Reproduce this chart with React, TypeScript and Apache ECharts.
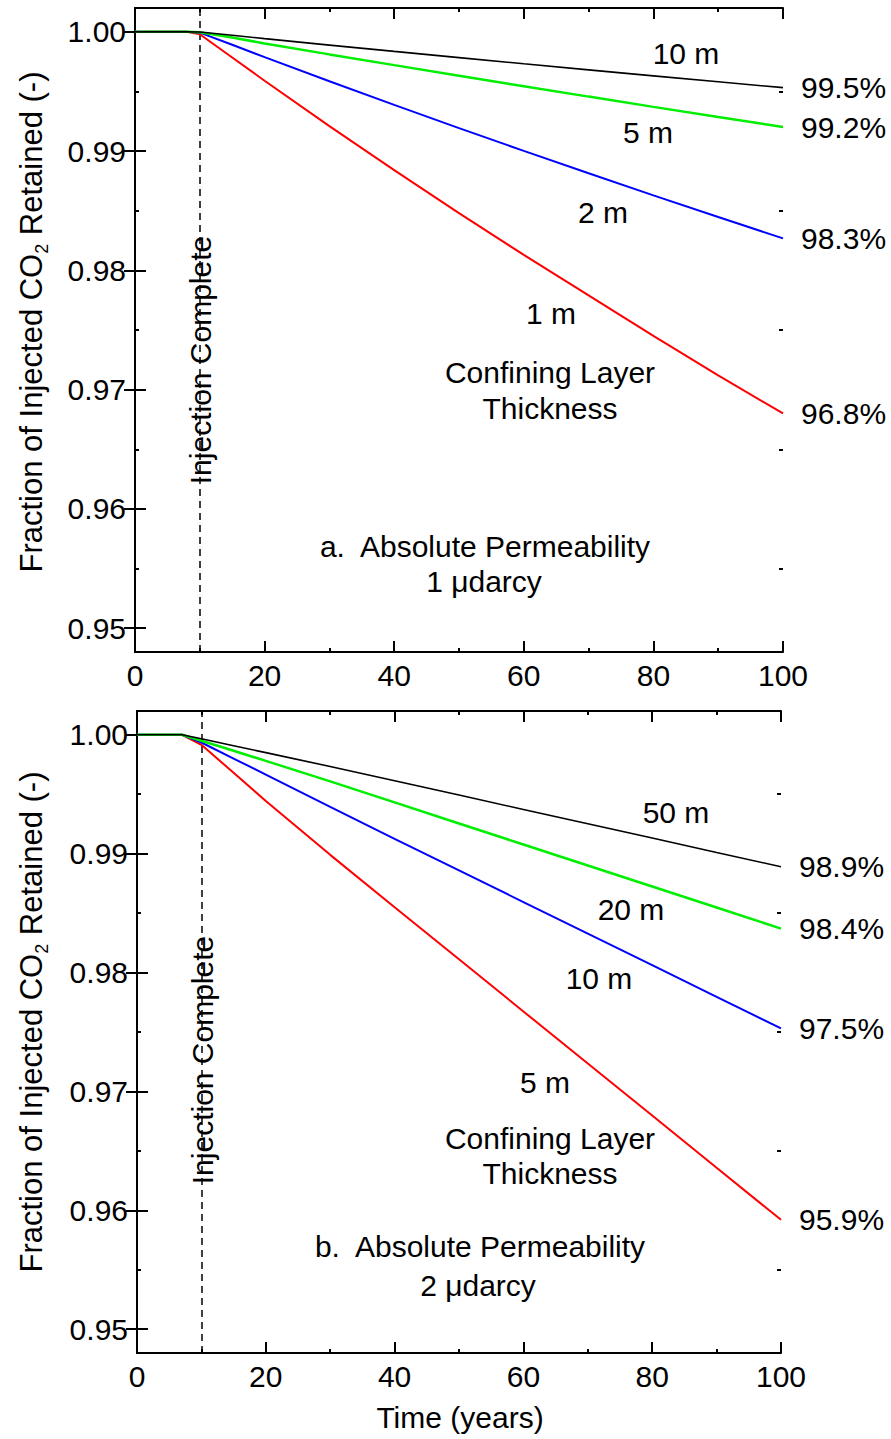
import React, { useEffect, useRef } from "react";
import * as echarts from "echarts";

const FONT = "'Liberation Sans', Arial, Helvetica, sans-serif";

// Panel a (1 µdarcy)
const TIMES_A = [0, 8, 10, 15, 20, 30, 40, 50, 60, 70, 80, 90, 100];
const A_1M = [1, 1, 0.9998, 0.99785, 0.9959, 0.9921, 0.9884, 0.9848, 0.9813, 0.9779, 0.9745, 0.9712, 0.968];
const A_2M = [1, 1, 0.99993, 0.99892, 0.99788, 0.99586, 0.99388, 0.99193, 0.99002, 0.98814, 0.98629, 0.98447, 0.98268];
const A_5M = [1, 1, 0.99997, 0.99952, 0.99903, 0.99811, 0.99721, 0.99632, 0.99544, 0.99457, 0.99371, 0.99286, 0.99202];
const A_10M = [1, 1, 0.99999, 0.99972, 0.99943, 0.99889, 0.99836, 0.99784, 0.99732, 0.99681, 0.99631, 0.99581, 0.99532];
const A_END = ["96.8%", "98.3%", "99.2%", "99.5%"];

// Panel b (2 µdarcy)
const TIMES_B = [0, 7, 10, 15, 20, 30, 40, 50, 60, 70, 80, 90, 100];
const B_5M = [1, 1, 0.99916, 0.9968, 0.99443, 0.9899, 0.9855, 0.98112, 0.97673, 0.97235, 0.96797, 0.96358, 0.9592];
const B_10M = [1, 1, 0.99935, 0.998, 0.99665, 0.99393, 0.99125, 0.98859, 0.98593, 0.98327, 0.98062, 0.97796, 0.9753];
const B_20M = [1, 1, 0.9995, 0.99866, 0.9978, 0.99608, 0.99431, 0.99254, 0.99077, 0.989, 0.98724, 0.98547, 0.9837];
const B_50M = [1, 1, 0.99966, 0.99908, 0.9985, 0.99733, 0.99613, 0.99493, 0.99372, 0.99251, 0.99131, 0.9901, 0.9889];
const B_END = ["95.9%", "97.5%", "98.4%", "98.9%"];

const COLORS = ["#ff0000", "#0000ff", "#00ee00", "#000000"];
const WIDTHS = [2, 2, 2.5, 1.6];

const Y_MAJOR = [0.95, 0.96, 0.97, 0.98, 0.99, 1.0];
const Y_MINOR = [0.955, 0.965, 0.975, 0.985, 0.995];
const Y_MIN = 0.948;
const Y_MAX = 1.002;
const INJECTION_END = 10;

export default function App() {
  const ref = useRef<HTMLDivElement>(null);

  useEffect(() => {
    if (!ref.current) return;
    const chart = echarts.init(ref.current, null, { renderer: "svg" });

    const grids = [
      { left: 135, top: 8, width: 648, height: 644 },
      { left: 137, top: 711, width: 644, height: 642 },
    ];

    const axisLineStyle = { color: "#000", width: 2 };
    const xAxes: any[] = [];
    const yAxes: any[] = [];
    grids.forEach((_, g) => {
      const xBase = {
        gridIndex: g,
        type: "value",
        min: 0,
        max: 100,
        interval: 20,
        splitLine: { show: false },
        axisLine: { show: true, lineStyle: axisLineStyle },
        axisTick: { show: true, inside: true, length: 11, lineStyle: axisLineStyle },
        minorTick: { show: true, splitNumber: 2, length: 4, lineStyle: axisLineStyle },
        minorSplitLine: { show: false },
      };
      xAxes.push({
        ...xBase,
        position: "bottom",
        axisLabel: { show: true, fontSize: 30, color: "#000", fontFamily: FONT, margin: 8 },
      });
      xAxes.push({ ...xBase, position: "top", axisLabel: { show: false } });

      const yBase = {
        gridIndex: g,
        type: "value",
        min: Y_MIN,
        max: Y_MAX,
        splitLine: { show: false },
      };
      yAxes.push({
        ...yBase,
        position: "left",
        axisLine: { show: true, lineStyle: axisLineStyle },
        axisTick: { show: true, inside: true, length: 11, customValues: Y_MAJOR, lineStyle: axisLineStyle },
        axisLabel: {
          show: true,
          customValues: Y_MAJOR,
          formatter: (v: number) => v.toFixed(2),
          fontSize: 30,
          color: "#000",
          fontFamily: FONT,
          margin: 9,
        },
      });
      yAxes.push({
        ...yBase,
        position: "right",
        axisLine: { show: true, lineStyle: axisLineStyle },
        axisTick: { show: true, inside: true, length: 11, customValues: Y_MAJOR, lineStyle: axisLineStyle },
        axisLabel: { show: false },
      });
      yAxes.push({
        ...yBase,
        position: "left",
        axisLine: { show: false },
        axisTick: { show: true, inside: true, length: 4, customValues: Y_MINOR, lineStyle: axisLineStyle },
        axisLabel: { show: false },
      });
      yAxes.push({
        ...yBase,
        position: "right",
        axisLine: { show: false },
        axisTick: { show: true, inside: true, length: 4, customValues: Y_MINOR, lineStyle: axisLineStyle },
        axisLabel: { show: false },
      });
    });

    const panels = [
      { times: TIMES_A, sets: [A_1M, A_2M, A_5M, A_10M], ends: A_END },
      { times: TIMES_B, sets: [B_5M, B_10M, B_20M, B_50M], ends: B_END },
    ];

    const series: any[] = [];
    panels.forEach((p, g) => {
      p.sets.forEach((vals, i) => {
        series.push({
          type: "line",
          xAxisIndex: 2 * g,
          yAxisIndex: 4 * g,
          data: p.times.map((t, k) => [t, vals[k]]),
          showSymbol: false,
          symbol: "none",
          lineStyle: { color: COLORS[i], width: WIDTHS[i] },
          itemStyle: { color: COLORS[i] },
          z: 3 + i,
          endLabel: {
            show: true,
            formatter: p.ends[i],
            color: "#000",
            fontSize: 30,
            fontFamily: FONT,
            distance: 18,
          },
          markLine:
            i === 0
              ? {
                  silent: true,
                  symbol: "none",
                  label: { show: false },
                  lineStyle: { type: [7, 5], color: "#000", width: 1.5 },
                  data: [{ xAxis: INJECTION_END }],
                  z: 1,
                }
              : undefined,
        });
      });
    });

    const txt = (text: string, x: number, y: number, size = 30, rotation = 0) => ({
      type: "text",
      x,
      y,
      rotation,
      z: 10,
      style: {
        text,
        fontSize: size,
        fontFamily: FONT,
        fill: "#000",
        align: "center",
        verticalAlign: "middle",
      },
    });

    const yTitle = (x: number, y: number) => ({
      type: "text",
      x,
      y,
      rotation: Math.PI / 2,
      z: 10,
      style: {
        text: "{a|Fraction of Injected CO}{s|2}{a| Retained (-)}",
        rich: {
          a: { fontSize: 31, fontFamily: FONT, fill: "#000", lineHeight: 40 },
          s: { fontSize: 18, fontFamily: FONT, fill: "#000", lineHeight: 18, verticalAlign: "bottom" },
        },
        align: "center",
        verticalAlign: "middle",
      },
    });

    const graphic = [
      // Panel a
      txt("10 m", 686, 53),
      txt("5 m", 648, 132),
      txt("2 m", 603, 212),
      txt("1 m", 551, 313),
      txt("Confining Layer", 550, 372),
      txt("Thickness", 550, 408),
      txt("a.  Absolute Permeability", 485, 546),
      txt("1 μdarcy", 484, 581),
      txt("Injection Complete", 200, 360, 30, Math.PI / 2),
      yTitle(31, 322),
      // Panel b
      txt("50 m", 676, 812),
      txt("20 m", 631, 909),
      txt("10 m", 599, 978),
      txt("5 m", 545, 1082),
      txt("Confining Layer", 550, 1138),
      txt("Thickness", 550, 1173),
      txt("b.  Absolute Permeability", 480, 1246),
      txt("2 μdarcy", 478, 1285),
      txt("Injection Complete", 202, 1060, 30, Math.PI / 2),
      yTitle(31, 1022),
      txt("Time (years)", 460, 1417),
    ];

    chart.setOption({
      animation: false,
      backgroundColor: "#fff",
      grid: grids.map((g) => ({ ...g, containLabel: false })),
      xAxis: xAxes,
      yAxis: yAxes,
      series,
      graphic,
    });

    return () => chart.dispose();
  }, []);

  return (
    <div
      ref={ref}
      style={{ position: "absolute", left: 0, top: 0, width: 891, height: 1439 }}
    />
  );
}
